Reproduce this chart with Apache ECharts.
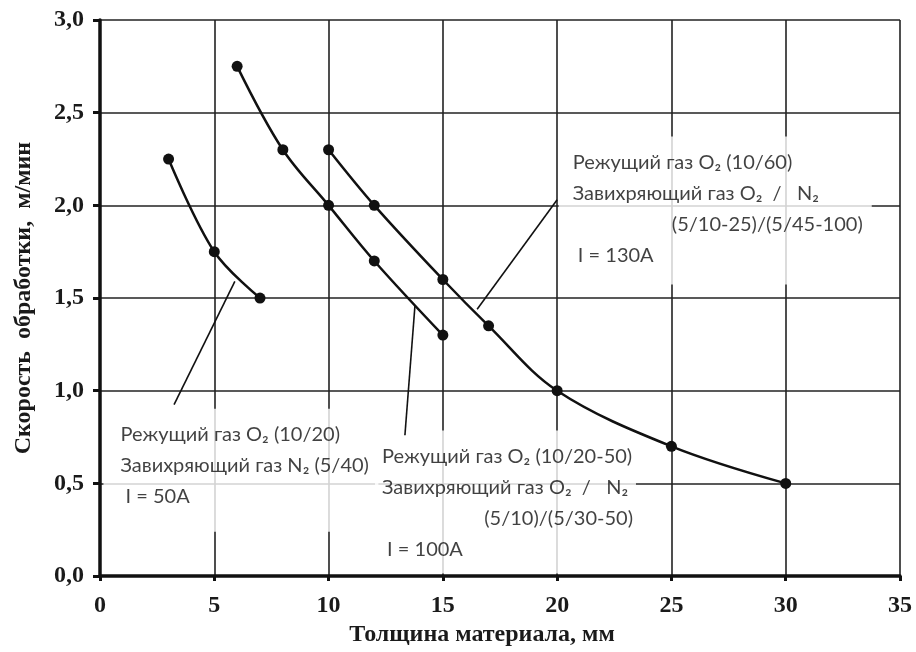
<!DOCTYPE html>
<html>
<head>
<meta charset="utf-8">
<script src="https://cdn.jsdelivr.net/npm/echarts@6/dist/echarts.min.js"></script>
<style>
  html, body { margin: 0; padding: 0; background: #fff; }
  #chart { width: 916px; height: 652px; }
</style>
</head>
<body>
<div id="chart"></div>
<script>
// данные
const thickness50 = [3, 5, 7];
const speed50 = [2.25, 1.75, 1.5];
const thickness100 = [6, 8, 10, 12, 15];
const speed100 = [2.75, 2.3, 2.0, 1.7, 1.3];
const thickness130 = [10, 12, 15, 17, 20, 25, 30];
const speed130 = [2.3, 2.0, 1.6, 1.35, 1.0, 0.7, 0.5];

// выноски: [от кривой, к подписи]
const leader50 = [[5.9, 1.59], [3.24, 0.925]];
const leader100 = [[13.78, 1.46], [13.34, 0.76]];
const leader130 = [[20.0, 2.03], [16.5, 1.44]];

// подписи (левый верхний угол рамки)
const noteAnchors = [[0.15, 0.903], [12.03, 0.785], [20.07, 2.371]];

const zip = (xs, ys) => xs.map((x, i) => [x, ys[i]]);
const serif = '"Liberation Serif", "DejaVu Serif", serif';
const sans = 'Lato, "Noto Sans", sans-serif';

const txt = { fontFamily: sans, fontSize: 20, lineHeight: 31, color: '#111' };

const chart = echarts.init(document.getElementById('chart'));

const curve = (name, data) => ({
  name: name,
  type: 'line',
  data: data,
  smooth: 0.35,
  symbol: 'circle',
  symbolSize: 11,
  itemStyle: { color: '#111' },
  lineStyle: { color: '#111', width: 2.5 },
  z: 5
});

const leader = (data) => ({
  type: 'line',
  data: data,
  symbol: 'none',
  lineStyle: { color: '#111', width: 1.6 },
  silent: true,
  z: 4
});

chart.setOption({
  backgroundColor: '#fff',
  animation: false,
  grid: { left: 100, right: 16, top: 20, bottom: 74 },
  xAxis: {
    type: 'value',
    min: 0,
    max: 35,
    interval: 5,
    name: 'Толщина материала, мм',
    nameLocation: 'middle',
    nameGap: 46,
    nameTextStyle: {
      fontFamily: serif, fontWeight: 'bold', fontSize: 24, color: '#1a1a1a',
      padding: [0, 36, 0, 0]
    },
    axisLine: { lineStyle: { color: '#111', width: 3.5 } },
    axisTick: { length: 5, lineStyle: { color: '#111', width: 3 } },
    axisLabel: { margin: 18, fontFamily: serif, fontWeight: 'bold', fontSize: 24, color: '#1a1a1a' },
    splitLine: { lineStyle: { color: '#222', width: 1.6 } }
  },
  yAxis: {
    type: 'value',
    min: 0,
    max: 3,
    interval: 0.5,
    name: 'Скорость  обработки,  м/мин',
    nameLocation: 'middle',
    nameGap: 64,
    nameTextStyle: { fontFamily: serif, fontWeight: 'bold', fontSize: 24, color: '#1a1a1a' },
    axisLine: { show: true, lineStyle: { color: '#111', width: 3.5 } },
    axisTick: { show: true, length: 7, lineStyle: { color: '#111', width: 3 } },
    axisLabel: {
      margin: 16,
      fontFamily: serif, fontWeight: 'bold', fontSize: 24, color: '#1a1a1a',
      formatter: (v) => v.toFixed(1).replace('.', ',')
    },
    splitLine: { lineStyle: { color: '#222', width: 1.6 } }
  },
  series: [
    curve('I = 50A', zip(thickness50, speed50)),
    curve('I = 100A', zip(thickness100, speed100)),
    curve('I = 130A', zip(thickness130, speed130)),
    leader(leader50),
    leader(leader100),
    leader(leader130),
    {
      type: 'scatter',
      symbolSize: 0,
      silent: true,
      z: 3,
      data: [
        {
          value: noteAnchors[0],
          label: {
            show: true, position: 'inside', align: 'left', verticalAlign: 'top',
            backgroundColor: '#fff', padding: [10, 3, 20, 17],
            formatter: '{t|Режущий газ O₂ (10/20)}\n{t|Завихряющий газ N₂ (5/40)}\n{t| I = 50A}',
            rich: { t: Object.assign({ width: 255 }, txt) }
          }
        },
        {
          value: noteAnchors[1],
          label: {
            show: true, position: 'inside', align: 'left', verticalAlign: 'top',
            backgroundColor: '#fff', padding: [10, 3, 9, 7],
            formatter: '{t|Режущий газ O₂ (10/20-50)}\n{t|Завихряющий газ O₂  /   N₂}\n{r|(5/10)/(5/30-50)}\n{t| I = 100A}',
            rich: {
              t: Object.assign({ width: 251 }, txt),
              r: Object.assign({ width: 251, align: 'right' }, txt)
            }
          }
        },
        {
          value: noteAnchors[2],
          label: {
            show: true, position: 'inside', align: 'left', verticalAlign: 'top',
            backgroundColor: '#fff', padding: [10, 9, 14, 14],
            formatter: '{t|Режущий газ O₂ (10/60)}\n{t|Завихряющий газ O₂  /   N₂}\n{r|(5/10-25)/(5/45-100)}\n{t| I = 130A}',
            rich: {
              t: Object.assign({ width: 290 }, txt),
              r: Object.assign({ width: 290, align: 'right' }, txt)
            }
          }
        }
      ]
    }
  ]
});
</script>
</body>
</html>
